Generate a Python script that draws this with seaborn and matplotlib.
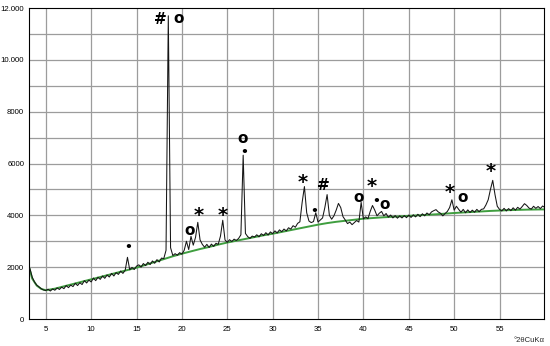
import numpy as np
import pandas as pd
import matplotlib
matplotlib.use("Agg")
import matplotlib.pyplot as plt
import seaborn as sns
from matplotlib.ticker import MultipleLocator, FixedLocator

# ---- data ----
theta_start, theta_step = 3.25, 0.25
intensity = [
    1950, 1620, 1430, 1310,                      # 3.25-4.0
    1240, 1170, 1120, 1100,                      # 4
    1150, 1080, 1160, 1110,                      # 5
    1200, 1140, 1230, 1170,                      # 6
    1290, 1210, 1310, 1250,                      # 7
    1380, 1290, 1400, 1330,                      # 8
    1480, 1390, 1500, 1430,                      # 9
    1580, 1480, 1610, 1530,                      # 10
    1660, 1570, 1700, 1620,                      # 11
    1760, 1660, 1790, 1720,                      # 12
    1850, 1760, 1880, 2380,                      # 13
    1900, 1990, 1910, 2040,                      # 14
    2090, 2000, 2140, 2060,                      # 15
    2190, 2100, 2240, 2150,                      # 16
    2290, 2200, 2350, 2330,                      # 17
    2650, 11700, 2750, 2450,                     # 18
    2520, 2460, 2560, 2500,                      # 19
    2650, 3000, 2680, 3190,                      # 20
    2850, 3150, 3730, 3050,                      # 21
    2880, 2770, 2880, 2760,                      # 22
    2890, 2800, 2920, 2880,                      # 23
    3200, 3810, 3050, 2960,                      # 24
    3060, 2990, 3080, 3030,                      # 25
    3110, 3250, 6320, 3300,                      # 26
    3180, 3110, 3200, 3160,                      # 27
    3250, 3170, 3290, 3220,                      # 28
    3330, 3240, 3360, 3290,                      # 29
    3400, 3320, 3440, 3370,                      # 30
    3470, 3400, 3520, 3470,                      # 31
    3600, 3540, 3690, 3750,                      # 32
    4500, 5110, 4100, 3780,                      # 33
    3720, 3760, 4100, 3740,                      # 34
    3820, 3900, 4300, 4800,                      # 35
    4000, 3850, 3980, 4200,                      # 36
    4460, 4300, 3950, 3820,                      # 37
    3680, 3740, 3640, 3720,                      # 38
    3800, 3740, 4500, 3860,                      # 39
    3940, 3870, 4150, 4380,                      # 40
    4200, 3980, 4080, 4150,                      # 41
    3980, 4070, 3930, 4010,                      # 42
    3900, 3990, 3890, 3980,                      # 43
    3900, 3990, 3910, 4010,                      # 44
    3920, 4020, 3940, 4040,                      # 45
    3950, 4060, 3980, 4090,                      # 46
    4020, 4130, 4180, 4220,                      # 47
    4130, 4080, 3980, 4070,                      # 48
    4150, 4300, 4600, 4200,                      # 49
    4350, 4230, 4120, 4230,                      # 50
    4100, 4210, 4110, 4200,                      # 51
    4120, 4230, 4140, 4230,                      # 52
    4250, 4400, 4600, 5000,                      # 53
    5350, 4800, 4350, 4230,                      # 54
    4170, 4270, 4170, 4260,                      # 55
    4180, 4290, 4200, 4310,                      # 56
    4240, 4340, 4450, 4380,                      # 57
    4280, 4240, 4350, 4270,                      # 58
    4340, 4260, 4360, 4300,                      # 59
]
two_theta = theta_start + theta_step * np.arange(len(intensity))

bg_theta = [3.2, 3.5, 4.0, 4.5, 5.0, 6, 7, 8, 9, 10, 11, 12, 13, 14, 15, 16, 17, 18, 19, 20,
            21, 22, 23, 24, 25, 26, 27, 28, 29, 30, 31, 32, 33, 34, 35, 36, 37, 38, 39, 40,
            42, 44, 46, 48, 50, 52, 54, 56, 58, 60]
bg_counts = [1950, 1560, 1290, 1160, 1110, 1170, 1260, 1350, 1440, 1530, 1620, 1710, 1800, 1890,
             1980, 2090, 2200, 2310, 2420, 2520, 2610, 2700, 2780, 2870, 2950, 3020, 3090, 3160,
             3230, 3290, 3360, 3430, 3500, 3570, 3640, 3700, 3750, 3790, 3830, 3870, 3920, 3960,
             4000, 4040, 4090, 4130, 4170, 4200, 4220, 4230]

phase_symbols = ["•", "#", "o", "o", "*", "*", "o", "•", "*", "•", "#",
                 "o", "*", "•", "o", "*", "o", "*"]
phase_theta = [14.07, 17.6, 19.6, 20.8, 21.8, 24.45, 26.65, 26.85, 33.3, 34.6, 35.6,
               39.5, 40.95, 41.4, 42.3, 49.55, 50.95, 54.0]
phase_counts = [2750, 11550, 11600, 3420, 4000, 4000, 6950, 6420, 5250, 4130, 5150,
                4690, 5120, 4520, 4430, 4900, 4690, 5700]

y_tick_values = [0, 2000, 4000, 6000, 8000, 10000, 12000]
y_tick_labels = ["0", "2000", "4000", "6000", "8000", "10.000", "12.000"]
x_tick_values = [5, 10, 15, 20, 25, 30, 35, 40, 45, 50, 55]

# ---- plotting ----
sns.set_style("white")
plt.rcParams["font.family"] = ["Liberation Sans", "DejaVu Sans"]

fig = plt.figure(figsize=(5.5, 3.46), dpi=100)
ax = fig.add_axes([29 / 550, 1 - 319 / 346, (544 - 29) / 550, (319 - 8) / 346])

for g in range(1000, 12000, 1000):
    ax.axhline(g, color="#9c9c9c", lw=0.9, zorder=0)
for g in x_tick_values:
    ax.axvline(g, color="#9c9c9c", lw=0.9, zorder=0)

df = pd.DataFrame({"theta": two_theta, "counts": intensity})
bg = pd.DataFrame({"theta": bg_theta, "counts": bg_counts})
sns.lineplot(data=bg, x="theta", y="counts", ax=ax, color="#3f9e3f", lw=1.4, zorder=2)
sns.lineplot(data=df, x="theta", y="counts", ax=ax, color="#151515", lw=0.75, zorder=3)

for s, tx, ty in zip(phase_symbols, phase_theta, phase_counts):
    fs = 14 if s == "*" else (11 if s != "•" else 9)
    ax.text(tx, ty, s, ha="center", va="center", fontsize=fs, fontweight="bold",
            color="black", family=["DejaVu Sans"], zorder=4)

ax.set_xlim(3.15, 59.9)
ax.set_ylim(0, 12000)
ax.xaxis.set_major_locator(FixedLocator(x_tick_values))
ax.xaxis.set_minor_locator(MultipleLocator(1))
ax.yaxis.set_major_locator(FixedLocator(y_tick_values))
ax.yaxis.set_minor_locator(MultipleLocator(500))
ax.set_yticklabels(y_tick_labels)
ax.tick_params(axis="both", which="major", direction="out", length=2.5, width=0.7,
               labelsize=5.6, pad=1, color="black", labelcolor="black")
ax.tick_params(axis="both", which="minor", direction="out", length=2.2, width=0.6,
               color="black")
ax.tick_params(axis="x", which="minor", length=2.8)
ax.tick_params(axis="x", which="major", length=2.8, pad=2)
ax.set_xlabel("")
ax.set_ylabel("")
for sp in ax.spines.values():
    sp.set_color("black")
    sp.set_linewidth(0.8)

fig.text(545 / 550, 1 - 340 / 346, "°2θCuKα", ha="right", va="center", fontsize=5.5)

fig.savefig("out.png", dpi=100)
